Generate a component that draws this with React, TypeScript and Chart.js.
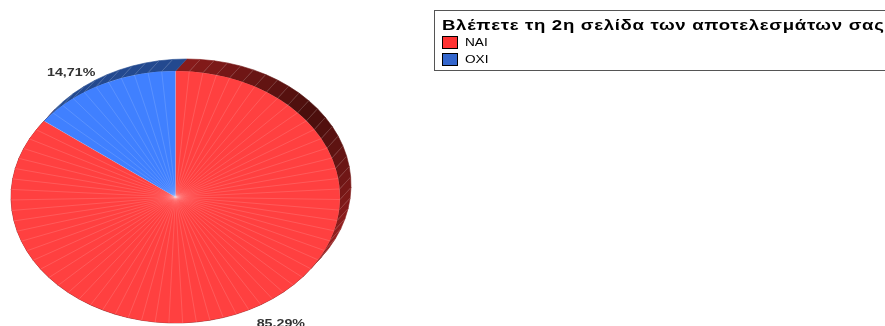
import React, { useEffect, useRef } from "react";
import { Chart, ArcElement, PieController } from "chart.js";

Chart.register(ArcElement, PieController);

const categories = ["ΝΑΙ", "ΟΧΙ"];
const shares = [85.29, 14.71];
const shareLabels = ["85,29%", "14,71%"];
const legendTitle = "Βλέπετε τη 2η σελίδα των αποτελεσμάτων σας";
const faceColors = ["#ff4040", "#4080ff"];
const swatchColors = ["#ff3333", "#3366cc"];
const facetCounts = [64, 11];

const STRETCH_X = 164.5 / 126;
const TEXT_STRETCH = 1.24;
const DEPTH_X = 11;
const DEPTH_Y = -12;

function rimColor(index: number, deg: number) {
  if (index === 1) return "#23498f";
  // deg is clockwise from the top of the pie
  const t = Math.min(1, Math.abs(deg - 52) / 60);
  const r = Math.round(72 + (148 - 72) * t);
  const g = Math.round(14 + (30 - 14) * t);
  const b = Math.round(12 + (30 - 12) * t);
  return `rgb(${r},${g},${b})`;
}

function wideText(ctx: CanvasRenderingContext2D, text: string, x: number, y: number, spacing = 0) {
  ctx.save();
  (ctx as any).letterSpacing = `${spacing}px`;
  ctx.translate(x, y);
  ctx.scale(TEXT_STRETCH, 1);
  ctx.fillText(text, 0, 0);
  ctx.restore();
}

const piePlugin = {
  id: "pie3d",
  beforeDatasetsDraw(chart: any) {
    const ctx = chart.ctx as CanvasRenderingContext2D;
    const arcs = chart.getDatasetMeta(0).data;
    arcs.forEach((arc: any, i: number) => {
      const rx = arc.outerRadius * STRETCH_X;
      const ry = arc.outerRadius;
      const n = facetCounts[i];
      const step = (arc.endAngle - arc.startAngle) / n;
      for (let k = 0; k < n; k++) {
        const a0 = arc.startAngle + k * step;
        const a1 = a0 + step;
        const x0 = arc.x + rx * Math.cos(a0);
        const y0 = arc.y + ry * Math.sin(a0);
        const x1 = arc.x + rx * Math.cos(a1);
        const y1 = arc.y + ry * Math.sin(a1);
        ctx.beginPath();
        ctx.moveTo(x0, y0);
        ctx.lineTo(x1, y1);
        ctx.lineTo(x1 + DEPTH_X, y1 + DEPTH_Y);
        ctx.lineTo(x0 + DEPTH_X, y0 + DEPTH_Y);
        ctx.closePath();
        const deg = (((a0 + step / 2 + Math.PI / 2) * 180) / Math.PI + 360) % 360;
        ctx.fillStyle = rimColor(i, deg);
        ctx.strokeStyle = ctx.fillStyle;
        ctx.lineWidth = 0.6;
        ctx.fill();
        ctx.stroke();
        ctx.beginPath();
        ctx.moveTo(x0, y0);
        ctx.lineTo(x0 + DEPTH_X, y0 + DEPTH_Y);
        ctx.strokeStyle = "rgba(255,255,255,0.14)";
        ctx.lineWidth = 1;
        ctx.stroke();
      }
    });
    const first = arcs[0];
    ctx.save();
    ctx.translate(first.x, 0);
    ctx.scale(STRETCH_X, 1);
    ctx.translate(-first.x, 0);
  },
  afterDatasetsDraw(chart: any) {
    const ctx = chart.ctx as CanvasRenderingContext2D;
    ctx.restore();
    const arcs = chart.getDatasetMeta(0).data;

    arcs.forEach((arc: any, i: number) => {
      const rx = arc.outerRadius * STRETCH_X;
      const ry = arc.outerRadius;
      const n = facetCounts[i];
      const step = (arc.endAngle - arc.startAngle) / n;
      ctx.lineWidth = 0.6;
      ctx.strokeStyle = i === 0 ? "rgba(255,200,200,0.32)" : "rgba(200,220,255,0.32)";
      for (let k = 0; k < n; k++) {
        const a = arc.startAngle + k * step;
        ctx.beginPath();
        ctx.moveTo(arc.x, arc.y);
        ctx.lineTo(arc.x + rx * Math.cos(a), arc.y + ry * Math.sin(a));
        ctx.stroke();
      }

      const mid = (arc.startAngle + arc.endAngle) / 2;
      const ex = arc.x + rx * Math.cos(mid);
      const ey = arc.y + ry * Math.sin(mid);
      ctx.font = "bold 11.5px 'Liberation Sans'";
      ctx.fillStyle = "#333333";
      ctx.textAlign = "center";
      ctx.textBaseline = "middle";
      wideText(
        ctx,
        shareLabels[i],
        ex + (Math.cos(mid) > 0 ? 32 : -31),
        ey + (Math.sin(mid) > 0 ? 14 : -11.5)
      );
    });

    // legend box
    ctx.strokeStyle = "#555555";
    ctx.lineWidth = 1;
    ctx.strokeRect(434.5, 10.5, 460, 60);
    ctx.font = "bold 15px 'Liberation Sans'";
    ctx.fillStyle = "#000000";
    ctx.textAlign = "left";
    ctx.textBaseline = "alphabetic";
    wideText(ctx, legendTitle, 442, 30, 0.55);
    categories.forEach((name, i) => {
      const y = 36 + i * 17;
      ctx.fillStyle = swatchColors[i];
      ctx.fillRect(442.5, y + 0.5, 15, 12);
      ctx.strokeStyle = "#000000";
      ctx.strokeRect(442.5, y + 0.5, 15, 12);
      ctx.font = "11px 'Liberation Sans'";
      ctx.fillStyle = "#000000";
      ctx.textBaseline = "middle";
      wideText(ctx, name, 465, y + 6.5);
      ctx.textBaseline = "alphabetic";
    });
  },
};

export default function App() {
  const ref = useRef<HTMLCanvasElement>(null);
  useEffect(() => {
    const chart = new Chart(ref.current!, {
      type: "pie",
      data: {
        labels: categories,
        datasets: [
          {
            data: shares,
            backgroundColor: faceColors,
            borderWidth: 0,
            clip: false,
          } as any,
        ],
      },
      options: {
        responsive: false,
        animation: false,
        events: [],
        layout: { padding: { left: 49.5, right: 583.5, top: 71, bottom: 3 } },
        plugins: { legend: { display: false }, tooltip: { enabled: false } },
      },
      plugins: [piePlugin],
    });
    return () => chart.destroy();
  }, []);
  return (
    <div style={{ position: "absolute", left: 0, top: 0, width: 885, height: 326, overflow: "hidden" }}>
      <canvas ref={ref} width={885} height={326} style={{ display: "block" }} />
    </div>
  );
}
